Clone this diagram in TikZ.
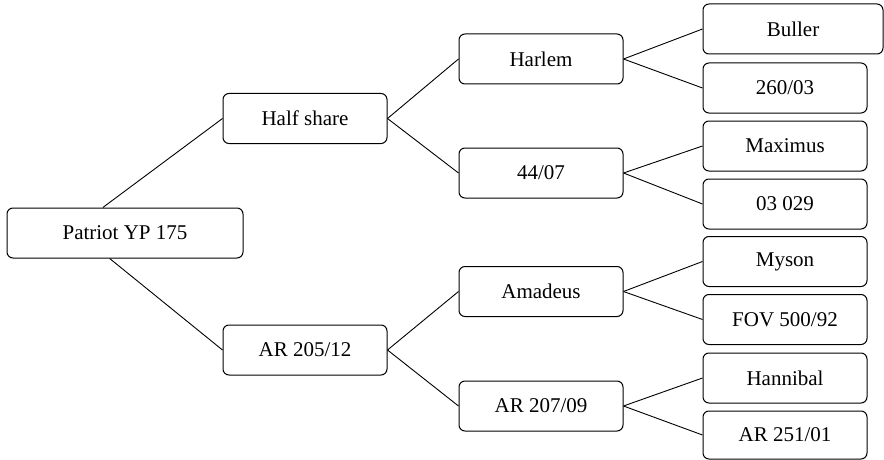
\documentclass[tikz,border=0pt]{standalone}
\usepackage{fontspec}
\setmainfont{Liberation Serif}
\usetikzlibrary{positioning}

\begin{document}
\begin{tikzpicture}[x=1pt, y=-1pt,
    box/.style={draw=black, line width=1pt, rounded corners=6pt, inner sep=0pt,
                minimum width=164pt, minimum height=50pt, font=\fontsize{21}{24}\selectfont},
    link/.style={line width=0.9pt}]
        \useasboundingbox (0,0) rectangle (884,460);
        % first generation
        \node (patriot) [box, minimum width=236pt] at (125,233) {Patriot YP 175};
        \node (halfshare) [box] at (305,118.5) {Half share};
        \node (ar20512) [box] at (305,350) {AR 205/12};
        % second generation
        \node (harlem) [box] at (541,59) {Harlem};
        \node (n4407) [box] at (541,173) {44/07};
        \node (amadeus) [box] at (541,291.5) {Amadeus};
        \node (ar20709) [box] at (541,406) {AR 207/09};
        % third generation
        \node (buller) [box, minimum width=180pt] at (793,29) {Buller};
        \node (n26003) [box] at (785,88) {260/03};
        \node (maximus) [box] at (785,146) {Maximus};
        \node (n03029) [box] at (785,204) {03 029};
        \node (myson) [box] at (785,261.5) {Myson};
        \node (fov) [box] at (785,319.5) {FOV 500/92};
        \node (hannibal) [box] at (785,378) {Hannibal};
        \node (ar25101) [box, minimum height=48pt] at (785,435) {AR 251/01};
        % links
        \draw [link] (patriot.131) -- (halfshare.west);
        \draw [link] (patriot.239) -- (ar20512.west);
        \draw [link] (halfshare.east) -- (harlem.west);
        \draw [link] (halfshare.east) -- (n4407.west);
        \draw [link] (ar20512.east) -- (amadeus.west);
        \draw [link] (ar20512.east) -- (ar20709.west);
        \draw [link] (harlem.east) -- (buller.west);
        \draw [link] (harlem.east) -- (n26003.west);
        \draw [link] (n4407.east) -- (maximus.west);
        \draw [link] (n4407.east) -- (n03029.west);
        \draw [link] (amadeus.east) -- (myson.west);
        \draw [link] (amadeus.east) -- (fov.west);
        \draw [link] (ar20709.east) -- (hannibal.west);
        \draw [link] (ar20709.east) -- (ar25101.west);
    \end{tikzpicture}
\end{document}
